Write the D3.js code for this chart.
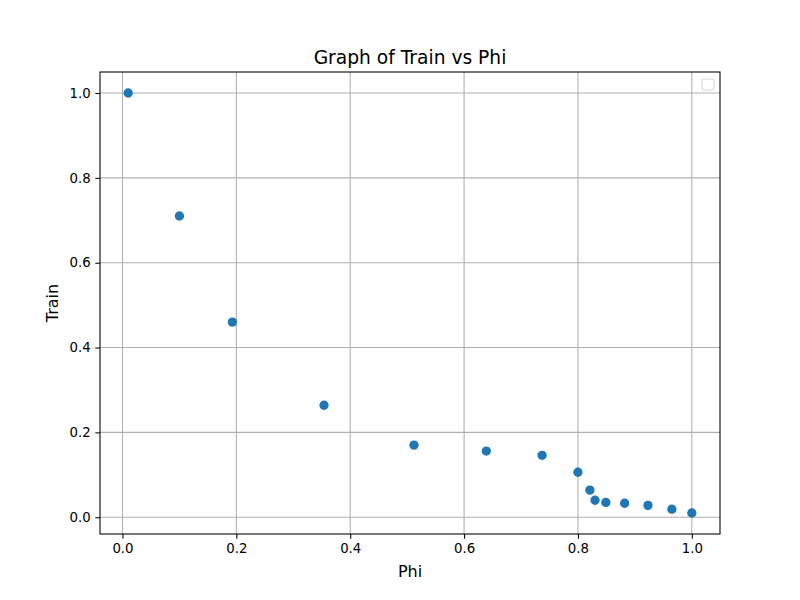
<!DOCTYPE html>
<html><head><meta charset="utf-8">
<script src="https://cdn.jsdelivr.net/npm/d3@7"></script>
<style>body{margin:0;background:#fff}svg{display:block}text{font-family:"DejaVu Sans",sans-serif}</style>
</head><body>
<svg id="c" width="800" height="600"></svg>
<script>
const phi = [0.01, 0.10, 0.193, 0.354, 0.512, 0.639, 0.737, 0.80, 0.821, 0.830, 0.849, 0.882, 0.923, 0.965, 1.00];
const train = [1.00, 0.71, 0.46, 0.264, 0.170, 0.156, 0.146, 0.106, 0.064, 0.040, 0.035, 0.033, 0.028, 0.019, 0.01];
const xTicks = [0.0, 0.2, 0.4, 0.6, 0.8, 1.0];
const yTicks = [0.0, 0.2, 0.4, 0.6, 0.8, 1.0];

const svg = d3.select("#c");
const L = 100, R = 720, T = 72, B = 534;
function pad(ext){const d=(ext[1]-ext[0])*0.05;return [ext[0]-d, ext[1]+d];}
const x = d3.scaleLinear().domain(pad(d3.extent(phi))).range([L, R]);
const y = d3.scaleLinear().domain(pad(d3.extent(train))).range([B, T]);

const g = svg.append("g");
// grid
g.selectAll(".gx").data(xTicks).join("line")
  .attr("x1", d=>x(d)).attr("x2", d=>x(d)).attr("y1", T).attr("y2", B)
  .attr("stroke", "#b0b0b0").attr("stroke-width", 1.07);
g.selectAll(".gy").data(yTicks).join("line")
  .attr("y1", d=>y(d)).attr("y2", d=>y(d)).attr("x1", L).attr("x2", R)
  .attr("stroke", "#b0b0b0").attr("stroke-width", 1.07);

// points
svg.append("g").selectAll("circle").data(phi.map((p,i)=>[p, train[i]])).join("circle")
  .attr("cx", d=>x(d[0])).attr("cy", d=>y(d[1])).attr("r", 4)
  .attr("fill", "#1f77b4").attr("stroke", "#1f77b4").attr("stroke-width", 1.33);

// axes
const fmt = d3.format(".1f");
const xa = svg.append("g").attr("transform", `translate(0,${B})`)
  .call(d3.axisBottom(x).tickValues(xTicks).tickFormat(fmt).tickSize(4.67).tickPadding(4.67));
const ya = svg.append("g").attr("transform", `translate(${L},0)`)
  .call(d3.axisLeft(y).tickValues(yTicks).tickFormat(fmt).tickSize(4.67).tickPadding(4.67));
[xa, ya].forEach(a=>{
  a.select(".domain").remove();
  a.selectAll(".tick line").attr("stroke", "#000").attr("stroke-width", 1.07);
  a.selectAll(".tick text").attr("font-size", "13.33px").attr("fill", "#000")
   .attr("font-family", "DejaVu Sans, sans-serif");
});

// frame
svg.append("rect").attr("x", L).attr("y", T).attr("width", R-L).attr("height", B-T)
  .attr("fill", "none").attr("stroke", "#000").attr("stroke-width", 1.07);

// empty legend
svg.append("rect").attr("x", 702).attr("y", 79).attr("width", 12).attr("height", 11)
  .attr("rx", 2).attr("fill", "#fff").attr("stroke", "#d8d8d8").attr("stroke-width", 1.07);

// labels
svg.append("text").attr("x", (L+R)/2).attr("y", 64).attr("text-anchor", "middle")
  .attr("font-size", "18.67px").text("Graph of Train vs Phi");
svg.append("text").attr("x", (L+R)/2).attr("y", 577).attr("text-anchor", "middle")
  .attr("font-size", "16px").text("Phi");
svg.append("text").attr("transform", `translate(58,${(T+B)/2}) rotate(-90)`).attr("text-anchor", "middle")
  .attr("font-size", "16px").text("Train");
</script>
</body></html>
